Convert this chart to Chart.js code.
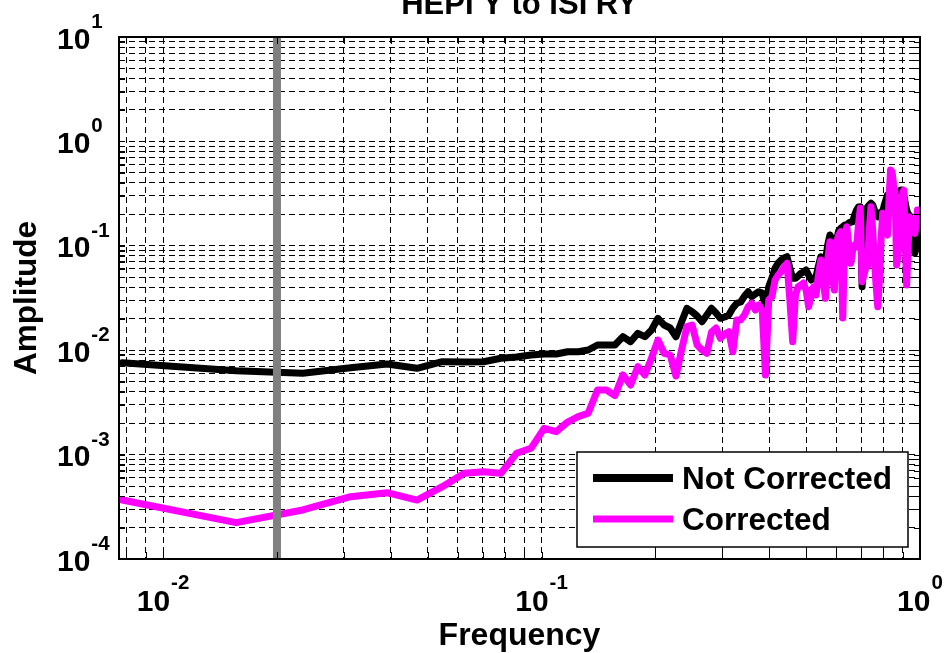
<!DOCTYPE html>
<html>
<head>
<meta charset="utf-8">
<script src="https://cdn.jsdelivr.net/npm/chart.js@4.4.1/dist/chart.umd.min.js"></script>
<style>
  html, body { margin: 0; padding: 0; background: #ffffff; }
  #wrap { width: 946px; height: 653px; }
</style>
</head>
<body>
<div id="wrap"><canvas id="c" width="946" height="653"></canvas></div>
<script>
const FONT = '"Liberation Sans", Arial, Helvetica, sans-serif';

// Frequency bins (Hz)
const frequency = [
  0.0078, 0.0156, 0.0234, 0.0313, 0.0391, 0.0469, 0.0547, 0.0625,
  0.0703, 0.0781, 0.0859, 0.0938, 0.1016, 0.1094, 0.1172, 0.125,
  0.1328, 0.1406, 0.1484, 0.1563, 0.1641, 0.1719, 0.1797, 0.1875,
  0.1953, 0.2031, 0.2109, 0.2188, 0.2266, 0.2344, 0.2422, 0.25,
  0.2578, 0.2656, 0.2734, 0.2813, 0.2891, 0.2969, 0.3047, 0.3125,
  0.3203, 0.3281, 0.3359, 0.3438, 0.3516, 0.3594, 0.3672, 0.375,
  0.3828, 0.3906, 0.3984, 0.4063, 0.4141, 0.4219, 0.4297, 0.4375,
  0.4453, 0.4531, 0.4609, 0.4688, 0.4766, 0.4844, 0.4922, 0.5,
  0.5078, 0.5156, 0.5234, 0.5313, 0.5391, 0.5469, 0.5547, 0.5625,
  0.5703, 0.5781, 0.5859, 0.5938, 0.6016, 0.6094, 0.6172, 0.625,
  0.6328, 0.6406, 0.6484, 0.6563, 0.6641, 0.6719, 0.6797, 0.6875,
  0.6953, 0.7031, 0.7109, 0.7188, 0.7266, 0.7344, 0.7422, 0.75,
  0.7578, 0.7656, 0.7734, 0.7813, 0.7891, 0.7969, 0.8047, 0.8125,
  0.8203, 0.8281, 0.8359, 0.8438, 0.8516, 0.8594, 0.8672, 0.875,
  0.8828, 0.8906, 0.8984, 0.9063, 0.9141, 0.9219, 0.9297, 0.9375,
  0.9453, 0.9531, 0.9609, 0.9688, 0.9766, 0.9844, 0.9922, 1.0
];

// Amplitude without correction
const notCorrected = [
  0.00759, 0.00636, 0.00601, 0.00680, 0.00738, 0.00671, 0.00776, 0.00771,
  0.00776, 0.00837, 0.00861, 0.00899, 0.00920, 0.00920, 0.00967, 0.00967,
  0.01005, 0.01121, 0.01121, 0.01121, 0.01347, 0.01206, 0.01452, 0.01347,
  0.0156, 0.02021, 0.01743, 0.01632, 0.01347, 0.01863, 0.02519, 0.02337,
  0.02126, 0.01875, 0.02174, 0.02519, 0.02272, 0.02021, 0.02080, 0.02174,
  0.02536, 0.02813, 0.02895, 0.03304, 0.03633, 0.03253, 0.03452, 0.03633,
  0.03530, 0.02610, 0.04057, 0.04915, 0.06128, 0.06844, 0.07311, 0.07641,
  0.07863, 0.06128, 0.04882, 0.04882, 0.05135, 0.05451, 0.05610, 0.05863,
  0.05252, 0.04704, 0.04915, 0.05058, 0.06401, 0.07863, 0.07641, 0.07043,
  0.1018, 0.1269, 0.1137, 0.0980, 0.1137, 0.1386, 0.1471, 0.1524,
  0.1582, 0.1582, 0.1654, 0.1690, 0.1702, 0.1972, 0.2203, 0.2353,
  0.2369, 0.04057, 0.0912, 0.2203, 0.2353, 0.2459, 0.2553, 0.2459,
  0.2203, 0.1972, 0.1901, 0.2016, 0.2108, 0.2108, 0.2459, 0.2747,
  0.3066, 0.313, 0.3066, 0.30, 0.313, 0.3276, 0.3298, 0.333,
  0.333, 0.3423, 0.3423, 0.3066, 0.2570, 0.2203, 0.2016, 0.1972,
  0.1582, 0.1137, 0.0912, 0.0848, 0.098, 0.1582, 0.2108, 0.2203
];

// Amplitude after correction
const corrected = [
  0.000367, 0.000223, 0.000295, 0.000395, 0.000432, 0.000367, 0.000493, 0.000662,
  0.000686, 0.000662, 0.001029, 0.001149, 0.001786, 0.001657, 0.002052, 0.002308,
  0.002487, 0.004157, 0.004157, 0.003682, 0.005788, 0.004642, 0.006950, 0.005788,
  0.008420, 0.01252, 0.009339, 0.008995, 0.005662, 0.01005, 0.01680, 0.01743,
  0.01121, 0.01005, 0.009339, 0.01493, 0.01632, 0.01300, 0.01429, 0.01504,
  0.00967, 0.01947, 0.01947, 0.02174, 0.02610, 0.02813, 0.02427, 0.02710,
  0.02427, 0.005788, 0.03027, 0.03253, 0.04704, 0.05252, 0.05647, 0.06263,
  0.06800, 0.03027, 0.01206, 0.03378, 0.04057, 0.04211, 0.04401, 0.03772,
  0.02610, 0.03304, 0.04057, 0.03378, 0.05252, 0.07311, 0.04704, 0.03142,
  0.07311, 0.1095, 0.05252, 0.03772, 0.1056, 0.1269, 0.1365, 0.02034,
  0.1269, 0.1524, 0.1018, 0.06800, 0.0912, 0.1018, 0.0980, 0.1582,
  0.2286, 0.04529, 0.05252, 0.06128, 0.06307, 0.1417, 0.2369, 0.1417,
  0.07311, 0.04211, 0.02610, 0.04704, 0.1137, 0.2048, 0.1690, 0.1356,
  0.1269, 0.2747, 0.5321, 0.5093, 0.3824, 0.3298, 0.06546, 0.0817,
  0.1317, 0.1972, 0.3066, 0.3423, 0.1137, 0.04211, 0.0912, 0.1901,
  0.1690, 0.1481, 0.1356, 0.1317, 0.1582, 0.2203, 0.2061, 0.1901
];

const seriesNames = ['Not Corrected', 'Corrected'];
const markerFrequency = 0.02;          // vertical reference line
const xRange = [0.00765, 1];
const yRange = [1e-4, 10];
const xDecades = [-2, -1, 0];          // labelled powers of ten
const yDecades = [-4, -3, -2, -1, 0, 1];
const titleText = 'HEPI Y to ISI RY';
const xTitle = 'Frequency';
const yTitle = 'Amplitude';

// gridline positions: 1..9 x 10^n inside the range
function logGrid(range) {
  const out = [];
  const lo = Math.floor(Math.log10(range[0]));
  const hi = Math.ceil(Math.log10(range[1]));
  for (let e = lo; e <= hi; e++) {
    for (let m = 1; m <= 9; m++) {
      const v = parseFloat((m * Math.pow(10, e)).toPrecision(6));
      if (v >= range[0] * 0.9999 && v <= range[1] * 1.0001) out.push({ value: v, major: m === 1 });
    }
  }
  return out;
}

const toPoints = (xs, ys) => xs.map((x, i) => ({ x: x, y: ys[i] }));

const matlabAxes = {
  id: 'matlabAxes',
  afterDatasetsDraw(chart) {
    const { ctx, chartArea: a, scales } = chart;
    ctx.save();
    // inward tick marks on all four sides
    ctx.strokeStyle = '#000';
    ctx.lineWidth = 1;
    ctx.setLineDash([]);
    scales.x.ticks.forEach(t => {
      const px = Math.round(scales.x.getPixelForValue(t.value)) + 0.5;
      const len = 7;
      ctx.beginPath();
      ctx.moveTo(px, a.bottom); ctx.lineTo(px, a.bottom - len);
      ctx.moveTo(px, a.top); ctx.lineTo(px, a.top + len);
      ctx.stroke();
    });
    scales.y.ticks.forEach(t => {
      const py = Math.round(scales.y.getPixelForValue(t.value)) + 0.5;
      const len = 6;
      ctx.beginPath();
      ctx.moveTo(a.left, py); ctx.lineTo(a.left + len, py);
      ctx.moveTo(a.right, py); ctx.lineTo(a.right - len, py);
      ctx.stroke();
    });
    // axes box
    ctx.lineWidth = 2;
    ctx.strokeRect(a.left, a.top, a.right - a.left, a.bottom - a.top);

    // legend box
    const lx = 577, ly = 452, lw = 331, lh = 95;
    ctx.fillStyle = '#fff';
    ctx.fillRect(lx, ly, lw, lh);
    ctx.lineWidth = 1.5;
    ctx.strokeRect(lx, ly, lw, lh);
    const entries = [
      { name: seriesNames[0], color: '#000000', y: 478, w: 8 },
      { name: seriesNames[1], color: '#ff00ff', y: 519, w: 7 }
    ];
    entries.forEach(en => {
      ctx.strokeStyle = en.color;
      ctx.lineWidth = en.w;
      ctx.lineCap = 'butt';
      ctx.beginPath();
      ctx.moveTo(593, en.y); ctx.lineTo(673, en.y);
      ctx.stroke();
      ctx.fillStyle = '#000';
      ctx.font = 'bold 31.5px ' + FONT;
      ctx.textAlign = 'left';
      ctx.textBaseline = 'alphabetic';
      ctx.fillText(en.name, 682, en.y + 11);
    });
    ctx.restore();
  },
  afterDraw(chart) {
    const { ctx, chartArea: a, scales } = chart;
    ctx.save();
    ctx.fillStyle = '#000';
    ctx.textBaseline = 'alphabetic';
    ctx.textAlign = 'left';
    const big = 'bold 30px ' + FONT;
    const small = 'bold 20.5px ' + FONT;

    // y tick labels: 10^n
    yDecades.forEach(e => {
      const py = scales.y.getPixelForValue(Math.pow(10, e));
      ctx.font = big;
      const w10 = ctx.measureText('10').width;
      ctx.fillText('10', 57, py + 11.5);
      ctx.font = small;
      ctx.fillText(String(e), 57 + w10 + 1, py - 9);
    });

    // x tick labels: 10^n
    xDecades.forEach(e => {
      const px = scales.x.getPixelForValue(Math.pow(10, e));
      ctx.font = big;
      const w10 = ctx.measureText('10').width;
      ctx.font = small;
      const we = ctx.measureText(String(e)).width;
      const left = px - (w10 + 1 + we) / 2;
      ctx.font = big;
      ctx.fillText('10', left, 611);
      ctx.font = small;
      ctx.fillText(String(e), left + w10 + 1, 589);
    });

    // titles
    const cx = (a.left + a.right) / 2;
    ctx.textAlign = 'center';
    ctx.font = 'bold 31px ' + FONT;
    ctx.fillText(titleText, cx, 14);
    ctx.font = 'bold 32px ' + FONT;
    ctx.fillText(xTitle, cx, 645);
    ctx.translate(36, (a.top + a.bottom) / 2);
    ctx.rotate(-Math.PI / 2);
    ctx.font = 'bold 31.5px ' + FONT;
    ctx.fillText(yTitle, 0, 0);
    ctx.restore();
  }
};

const gridOpts = { color: '#000000', lineWidth: 1, drawTicks: false };
const borderOpts = { display: false, dash: [6, 4] };

new Chart(document.getElementById('c').getContext('2d'), {
  type: 'line',
  data: {
    datasets: [
      {
        label: 'marker',
        data: [{ x: markerFrequency, y: yRange[0] }, { x: markerFrequency, y: yRange[1] }],
        borderColor: '#808080', borderWidth: 8, pointRadius: 0, pointHoverRadius: 0,
        borderCapStyle: 'butt', order: 0
      },
      {
        label: seriesNames[1],
        data: toPoints(frequency, corrected),
        borderColor: '#ff00ff', borderWidth: 7, pointRadius: 0, pointHoverRadius: 0,
        tension: 0, borderJoinStyle: 'round', borderCapStyle: 'round', order: 1
      },
      {
        label: seriesNames[0],
        data: toPoints(frequency, notCorrected),
        borderColor: '#000000', borderWidth: 7, pointRadius: 0, pointHoverRadius: 0,
        tension: 0, borderJoinStyle: 'round', borderCapStyle: 'round', order: 2
      }
    ]
  },
  options: {
    responsive: false,
    animation: false,
    devicePixelRatio: 1,
    events: [],
    layout: { padding: { left: 119, right: 26, top: 37, bottom: 94 } },
    plugins: { legend: { display: false }, tooltip: { enabled: false }, title: { display: false } },
    scales: {
      x: {
        type: 'logarithmic', min: xRange[0], max: xRange[1],
        afterBuildTicks: s => { s.ticks = logGrid(xRange); },
        ticks: { display: false }, grid: gridOpts, border: borderOpts
      },
      y: {
        type: 'logarithmic', min: yRange[0], max: yRange[1],
        afterBuildTicks: s => { s.ticks = logGrid(yRange); },
        ticks: { display: false }, grid: gridOpts, border: borderOpts
      }
    }
  },
  plugins: [matlabAxes]
});
</script>
</body>
</html>
